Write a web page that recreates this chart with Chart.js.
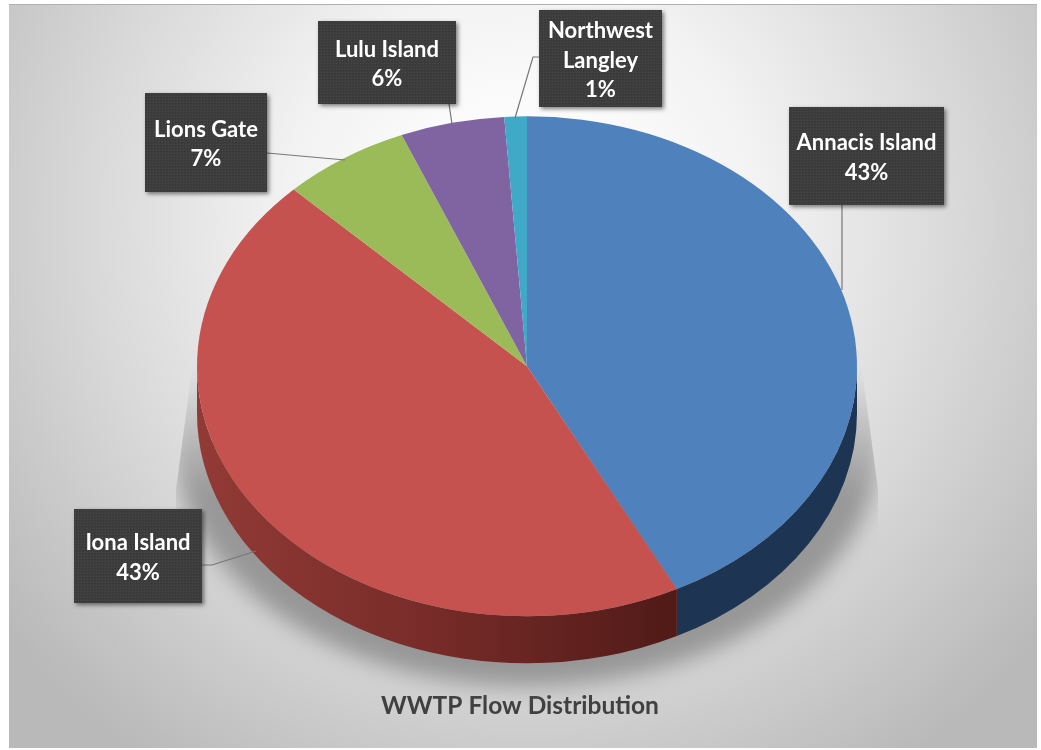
<!DOCTYPE html>
<html>
<head>
<meta charset="utf-8">
<title>WWTP Flow Distribution</title>
<script src="https://cdn.jsdelivr.net/npm/chart.js@4/dist/chart.umd.min.js"></script>
<style>
    html, body { margin: 0; padding: 0; background: #fff; }
    canvas { display: block; }
</style>
</head>
<body>
<canvas id="flowChart" width="1041" height="750"></canvas>
<script>
const categories = ['Annacis Island', 'Iona Island', 'Lions Gate', 'Lulu Island', 'Northwest Langley'];
const flowShare = [42.5, 45.0, 6.3, 5.1, 1.1];
const printedPercent = ['43%', '43%', '7%', '6%', '1%'];
const labelLines = [['Annacis Island'], ['Iona Island'], ['Lions Gate'], ['Lulu Island'], ['Northwest', 'Langley']];
const sliceColors = ['#4f81bd', '#c5524f', '#9bbb59', '#8064a2', '#3fa9c7'];

const RADIUS = 330;
const SQUASH = 250 / 330;
const DEPTH = 47;
const SHIFT_X = 7; // the title is centred a bit left of the pie
const FONT = 'Lato, "Open Sans", sans-serif';

// callout boxes and their leader lines, placed by hand like in the original
const boxes = [
    { x: 789, y: 107, w: 155, h: 98 },
    { x: 74, y: 509, w: 128, h: 94 },
    { x: 145, y: 93, w: 122, h: 99 },
    { x: 318, y: 21, w: 138, h: 83 },
    { x: 539, y: 10, w: 123, h: 97 }
];
const leaders = [
    [[842, 205], [842, 290]],
    [[202, 565], [212, 565], [256, 551]],
    [[267, 153], [345, 160]],
    [[449, 104], [452, 124]],
    [[539, 57], [533, 57], [515, 118]]
];

function boxPattern(ctx) {
    const tile = document.createElement('canvas');
    tile.width = 3;
    tile.height = 3;
    const t = tile.getContext('2d');
    t.fillStyle = '#3d3d3d';
    t.fillRect(0, 0, 3, 3);
    t.fillStyle = '#474747';
    t.fillRect(0, 0, 1, 1);
    t.fillStyle = '#363636';
    t.fillRect(1, 1, 1, 1);
    return ctx.createPattern(tile, 'repeat');
}

const background = {
    id: 'background',
    beforeDraw: chart => {
        const ctx = chart.ctx;
        ctx.save();
        ctx.fillStyle = '#fff';
        ctx.fillRect(0, 0, 1041, 750);
        const g = ctx.createRadialGradient(525, 220, 60, 525, 220, 660);
        g.addColorStop(0, '#ffffff');
        g.addColorStop(0.3, '#f2f2f2');
        g.addColorStop(0.62, '#d9d9d9');
        g.addColorStop(1, '#b9b9b9');
        ctx.fillStyle = g;
        ctx.fillRect(9, 5, 1028, 743);
        ctx.fillStyle = '#b0b0b0';
        ctx.fillRect(9, 4, 1028, 1);
        ctx.restore();
    }
};

const pie3d = {
    id: 'pie3d',
    beforeDatasetsDraw: chart => {
        const ctx = chart.ctx;
        const arcs = chart.getDatasetMeta(0).data;
        const cx = arcs[0].x + SHIFT_X;
        const cy = arcs[0].y;
        const r = arcs[0].outerRadius;
        const ry = r * SQUASH;
        const bottom = cy + DEPTH;

        // soft shadow under the disc, with the cut-off wedge at both sides
        ctx.save();
        ctx.beginPath();
        ctx.moveTo(cx - 335, cy + 3);
        ctx.lineTo(cx - 351, cy + 123);
        ctx.lineTo(cx - 351, 750);
        ctx.lineTo(cx + 351, 750);
        ctx.lineTo(cx + 351, cy + 123);
        ctx.lineTo(cx + 335, cy + 3);
        ctx.closePath();
        ctx.clip();
        ctx.filter = 'blur(11px)';
        const s = ctx.createLinearGradient(0, cy + 5, 0, cy + 130);
        s.addColorStop(0, 'rgba(120,120,120,0)');
        s.addColorStop(1, 'rgba(120,120,120,0.68)');
        ctx.fillStyle = s;
        ctx.beginPath();
        ctx.ellipse(cx, cy + 72, r + 24, ry - 2, 0, 0, Math.PI * 2);
        ctx.fill();
        ctx.restore();

        // side wall, only the part of each slice that faces the viewer
        arcs.forEach((arc, i) => {
            const a0 = Math.max(arc.startAngle, 0);
            const a1 = Math.min(arc.endAngle, Math.PI);
            if (a1 <= a0) return;
            ctx.save();
            ctx.beginPath();
            ctx.ellipse(cx, cy, r, ry, 0, a0, a1);
            ctx.ellipse(cx, bottom, r, ry, 0, a1, a0, true);
            ctx.closePath();
            if (i === 1) {
                const g = ctx.createLinearGradient(cx - r, 0, cx + 155, 0);
                g.addColorStop(0, '#923a36');
                g.addColorStop(0.5, '#762b28');
                g.addColorStop(1, '#4f1a17');
                ctx.fillStyle = g;
            } else {
                ctx.fillStyle = '#1d3552';
            }
            ctx.fill();
            ctx.restore();
        });

        // squash the library's circle into the tilted disc
        ctx.save();
        ctx.translate(SHIFT_X, cy);
        ctx.scale(1, SQUASH);
        ctx.translate(0, -cy);
    },
    afterDatasetsDraw: chart => {
        chart.ctx.restore();
    }
};

const callouts = {
    id: 'callouts',
    afterDatasetsDraw: chart => {
        const ctx = chart.ctx;
        const fill = boxPattern(ctx);
        ctx.save();
        ctx.strokeStyle = '#777777';
        ctx.lineWidth = 1.2;
        leaders.forEach(points => {
            ctx.beginPath();
            points.forEach((p, i) => i ? ctx.lineTo(p[0], p[1]) : ctx.moveTo(p[0], p[1]));
            ctx.stroke();
        });
        ctx.textAlign = 'center';
        ctx.textBaseline = 'middle';
        boxes.forEach((b, i) => {
            ctx.save();
            ctx.shadowColor = 'rgba(0,0,0,0.5)';
            ctx.shadowBlur = 4;
            ctx.shadowOffsetX = 2;
            ctx.shadowOffsetY = 2;
            ctx.fillStyle = fill;
            ctx.fillRect(b.x, b.y, b.w, b.h);
            ctx.restore();
            const lines = labelLines[i].concat(printedPercent[i]);
            const step = 29.5;
            const y0 = b.y + b.h / 2 - (lines.length - 1) * step / 2 + 2;
            ctx.fillStyle = '#ffffff';
            ctx.font = 'bold 22px ' + FONT;
            lines.forEach((line, j) => ctx.fillText(line, b.x + b.w / 2, y0 + j * step));
        });
        ctx.restore();
    }
};

new Chart(document.getElementById('flowChart'), {
    type: 'pie',
    data: {
        labels: categories,
        datasets: [{
            data: flowShare,
            backgroundColor: sliceColors,
            borderWidth: 0,
            radius: RADIUS,
            clip: false
        }]
    },
    options: {
        responsive: false,
        animation: false,
        rotation: 0,
        layout: { padding: { left: 190, right: 191, top: 41, bottom: 0 } },
        plugins: {
            legend: { display: false },
            tooltip: { enabled: false },
            title: {
                display: true,
                text: 'WWTP Flow Distribution',
                position: 'bottom',
                color: '#404040',
                font: { family: FONT, size: 24.5, weight: 'bold' },
                padding: { top: 0, bottom: 29 }
            }
        }
    },
    plugins: [background, pie3d, callouts]
});
</script>
</body>
</html>
